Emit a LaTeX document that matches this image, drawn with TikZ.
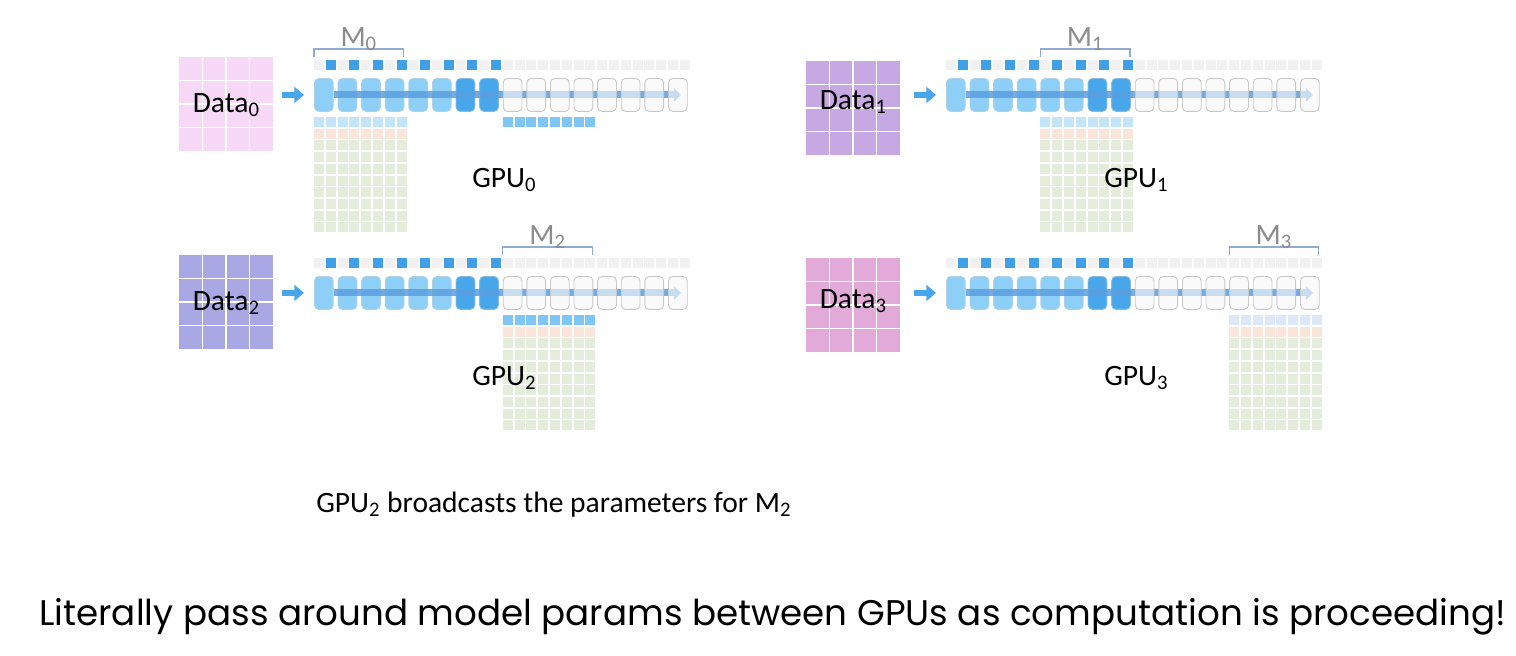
\documentclass[tikz,border=0pt]{standalone}
\usepackage{fontspec}
\setmainfont{Carlito}
\newfontfamily\capfont{Poppins}
\usetikzlibrary{arrows.meta}
\definecolor{data0}{HTML}{F7D9F7}
\definecolor{data1}{HTML}{C6A8E2}
\definecolor{data2}{HTML}{A9A7E4}
\definecolor{data3}{HTML}{E2AAD8}
\definecolor{boxlight}{HTML}{8DCFF6}
\definecolor{boxdark}{HTML}{48A6EA}
\definecolor{boxempty}{HTML}{F8F8F8}
\definecolor{stripgrey}{HTML}{F1F1F1}
\definecolor{stripblue}{HTML}{3FA0E8}
\definecolor{rowlight}{HTML}{C4E4FA}
\definecolor{rowbright}{HTML}{7EC6F5}
\definecolor{rowpale}{HTML}{DCE7F7}
\definecolor{roworange}{HTML}{FBE5DA}
\definecolor{rowgreen}{HTML}{E4EDDC}
\definecolor{flowblue}{HTML}{5B9EE0}
\definecolor{bracegrey}{HTML}{92ACD0}
\definecolor{mgrey}{HTML}{8C8C8C}
\tikzset{lbl/.style={inner sep=0pt,font=\fontsize{16.8}{20}\selectfont},
    mlabel/.style={lbl,text=mgrey},
    capline/.style={inner sep=0pt,font=\capfont\fontsize{20.3}{24}\selectfont},
    datagrid/.style={inner sep=0pt,minimum size=1.88cm,anchor=north west,draw=none},
    gridline/.style={white,line width=0.9pt},
    layer/.style={inner sep=0pt,minimum width=0.376cm,minimum height=0.66cm,
        anchor=north west,rounded corners=2.5pt},
    fulllayer/.style={layer,fill=#1,draw=#1!80!gray!70,line width=0.5pt},
    emptylayer/.style={layer,fill=boxempty,fill opacity=0.65,draw=black!22,line width=0.5pt},
    flow/.style={flowblue,opacity=0.85,line width=4pt,
        -{Triangle[length=4pt,width=7.5pt]}},
    feed/.style={boxdark,line width=3.4pt,shorten >=0.2cm,
        -{Triangle[length=5.5pt,width=9pt]}},
    brace/.style={bracegrey,line width=0.6pt},
    }
\begin{document}
\begin{tikzpicture}[x=0.02cm,y=-0.02cm]
\useasboundingbox (0,0) rectangle (1516,656);
\foreach \i/\bx/\by/\dx/\dy/\lo/\dcol/\m/\rcol in
    {0/314/78/179/57/8/data0/1/rowlight,
     1/946/78/806/61/1/data1/5/rowlight,
     2/314/276/179/255/8/data2/9/rowbright,
     3/946/276/806/258/3/data3/13/rowpale}{
  % data grid
  \node[datagrid,fill=\dcol] (d\i) at (\dx,\dy) {};
  \foreach \k in {1,2,3}{
    \draw[gridline] (\dx+\k*23.5,\dy) -- ++(0,94);
    \draw[gridline] (\dx,\dy+\k*23.5) -- ++(94,0);
  }
  \node[lbl,anchor=base] (dl\i) at ([yshift=-\lo*0.02cm]d\i.center) {Data\textsubscript{\i}};
  % parameter strip
  \foreach \c in {0,...,31}
    \fill[stripgrey] (\bx+\c*11.8,\by-18) rectangle ++(10,9.5);
  \foreach \c in {1,3,...,15}
    \fill[stripblue] (\bx+\c*11.8,\by-18) rectangle ++(10,9.5);
  % layers
  \foreach \k in {1,...,6}
    \node[fulllayer=boxlight] (b\i-\k) at (\bx+\k*23.6-23.6,\by) {};
  \foreach \k in {7,8}
    \node[fulllayer=boxdark] (b\i-\k) at (\bx+\k*23.6-23.6,\by) {};
  \draw[flow] (b\i-1.east) -- ([xshift=0.08cm]b\i-8.west -| \bx+359+4,0);
  \foreach \k in {9,...,16}
    \node[emptylayer] (b\i-\k) at (\bx+\k*23.6-23.6,\by) {};
  \coordinate (f\i) at ([xshift=-0.64cm]b\i-1.west);
  \draw[feed] (f\i) -- (b\i-1.west);
  % shard held by this gpu
  \pgfmathsetmacro\mx{\bx+(\m-1)*23.6}
  \foreach \c in {0,...,7}{
    \fill[\rcol] (\mx+\c*11.8,\by+39) rectangle ++(10,10);
    \fill[roworange] (\mx+\c*11.8,\by+50.7) rectangle ++(10,10);
    \foreach \r in {2,...,9}
      \fill[rowgreen] (\mx+\c*11.8,\by+39+\r*11.7) rectangle ++(10,10);
  }
  \draw[brace] (\mx,\by-21) -- (\mx,\by-29) -- (\mx+89.6,\by-29) -- (\mx+89.6,\by-21);
  \node[mlabel,anchor=base] (m\i) at (\mx+44.8,\by-32) {M\textsubscript{\i}};
  \node[lbl,anchor=base west] (g\i) at (\bx+158,\by+109) {GPU\textsubscript{\i}};
}
% incoming M2 row on gpu0
\foreach \c in {0,...,7}
  \fill[rowbright] (314+8*23.6+\c*11.8,117) rectangle ++(10,10);
\node[lbl,anchor=base west] (note) at (316,512)
  {GPU\textsubscript{2} broadcasts the parameters for M\textsubscript{2}};
\node[capline,anchor=base west] (claim) at (39,625)
  {Literally pass around model params between GPUs as computation is proceeding!};
\end{tikzpicture}
\end{document}
